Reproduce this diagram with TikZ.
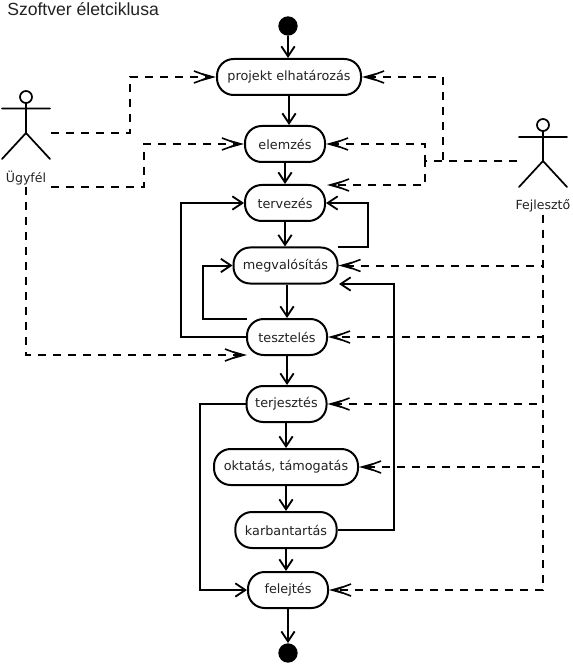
\documentclass[tikz,border=0pt]{standalone}
\usepackage{fontspec}
\setmainfont{DejaVu Sans}
\newfontfamily\titlefont{Liberation Sans}
\usepackage{xcolor}
\usepackage{tikz}
\usetikzlibrary{arrows.meta, calc}
\definecolor{labelgray}{RGB}{34, 34, 34}
\tikzset{
    activity/.style={draw=black, fill=white, line width=1.5pt, rounded corners=12.5pt,
          minimum height=27pt, inner sep=0pt, text=labelgray, font=\fontsize{9.6pt}{12pt}\selectfont},
    dot/.style={circle, fill=black, minimum size=14.5pt, inner sep=0pt},
    actorlabel/.style={text=labelgray, inner sep=0pt, font=\fontsize{9.4pt}{11pt}\selectfont},
    flow/.style={line width=1.5pt, -{Straight Barb[length=7.5pt, width=10pt, line width=1.4pt]}},
    assign/.style={line width=1.5pt, dash pattern=on 6pt off 5.25pt,
          -{Straight Barb[length=12pt, width=9pt, line width=1.2pt, sep=-8pt]Straight Barb[length=8pt, width=4.5pt, line width=1.2pt]}},
    figure/.style={line width=1.3pt, line cap=round}
}
\begin{document}
\begin{tikzpicture}[x=0.75pt, y=-0.75pt]
    \useasboundingbox (0,0) rectangle (572,666);
    \node[anchor=west, inner sep=0pt, font=\fontsize{13.2pt}{15pt}\titlefont, text=labelgray] (title) at (7,9) {Szoftver életciklusa};

    % activities
    \node[dot] (start) at (288,26) {};
    \node[activity, minimum width=108pt] (projekt) at (289,77) {projekt elhatározás};
    \node[activity, minimum width=60pt] (elemzes) at (285,144) {elemzés};
    \node[activity, minimum width=60pt] (tervezes) at (285,203) {tervezés};
    \node[activity, minimum width=78pt] (megval) at (285.5,265.5) {megvalósítás};
    \node[activity, minimum width=60pt] (teszt) at (287,337) {tesztelés};
    \node[activity, minimum width=60pt] (terjeszt) at (286.5,404) {terjesztés};
    \node[activity, minimum width=108pt] (oktatas) at (286,467) {oktatás, támogatás};
    \node[activity, minimum width=76pt] (karb) at (286,530) {karbantartás};
    \node[activity, minimum width=60pt] (felejt) at (288,590) {felejtés};
    \node[dot] (end) at (288,653) {};

    % actors
    \node[actorlabel] (ugyfel) at (26,178) {Ügyfél};
    \node[actorlabel] (fejleszto) at (543,206) {Fejlesztő};
    \draw[figure] (26,97) circle (6) (26,103) -- (26,133) (2,108.5) -- (50,108.5) (2,159) -- (26,133) -- (50,159);
    \draw[figure] (543,125) circle (6) (543,131) -- (543,161) (519,137) -- (567,137) (519,187) -- (543,161) -- (567,187);
    \coordinate (ugyfelA) at (51,133);
    \coordinate (ugyfelB) at (51,187);
    \coordinate (ugyfelC) at (26,187);
    \coordinate (fejlA) at (517,161);
    \coordinate (fejlB) at (543,215);
    \coordinate (tesztEnd) at (247,355);
    \coordinate (tervEnd) at (327,185);
    \coordinate (megvEnd) at (339,284);
    \coordinate (megvFrom) at (338,247);
    \coordinate (tesztFrom) at (247,319);

    % control flow
    \draw[flow] (start) -- (start |- projekt.north);
    \draw[flow] (projekt) -- (projekt.south |- elemzes.north);
    \draw[flow] (elemzes) -- (tervezes);
    \draw[flow] (tervezes) -- (tervezes |- megval.north);
    \draw[flow] (megval.south -| teszt) -- (teszt);
    \draw[flow] (teszt) -- (terjeszt.north -| teszt);
    \draw[flow] (terjeszt.south -| oktatas) -- (oktatas);
    \draw[flow] (oktatas) -- (karb);
    \draw[flow] (karb) -- (felejt.north -| karb);
    \draw[flow] (felejt) -- (end);
    \draw[flow] (megvFrom) -- (368,247) -- (368,203) -- (tervezes.east);
    \draw[flow] (tesztFrom) -- (203,319) -- (203,265.5) -- (megval.west);
    \draw[flow] (teszt.west) -- (181,337) -- (181,203) -- (tervezes.west);
    \draw[flow] (karb.east) -- (394,530) -- (394,284) -- (megvEnd);
    \draw[flow] (terjeszt.west) -- (200,404) -- (200,590) -- (felejt.west);

    % actors to activities
    \draw[assign] (ugyfelA) -- (130,133) -- (130,77) -- (projekt.west);
    \draw[assign] (ugyfelB) -- (144,187) -- (144,144) -- (elemzes.west);
    \draw[assign] (ugyfelC) -- (26,355) -- (tesztEnd);
    \draw[assign] (fejlA) -- (443,161) -- (443,77) -- (projekt.east);
    \draw[assign] (fejlA) -- (425,161) -- (425,144) -- (elemzes.east);
    \draw[assign] (fejlA) -- (425,161) -- (425,185) -- (tervEnd);
    \draw[assign] (fejlB) -- (543,265.5) -- (megval.east);
    \draw[assign] (fejlB) -- (543,337) -- (teszt.east);
    \draw[assign] (fejlB) -- (543,404) -- (terjeszt.east);
    \draw[assign] (fejlB) -- (543,467) -- (oktatas.east);
    \draw[assign] (fejlB) -- (543,590) -- (felejt.east);
\end{tikzpicture}
\end{document}
